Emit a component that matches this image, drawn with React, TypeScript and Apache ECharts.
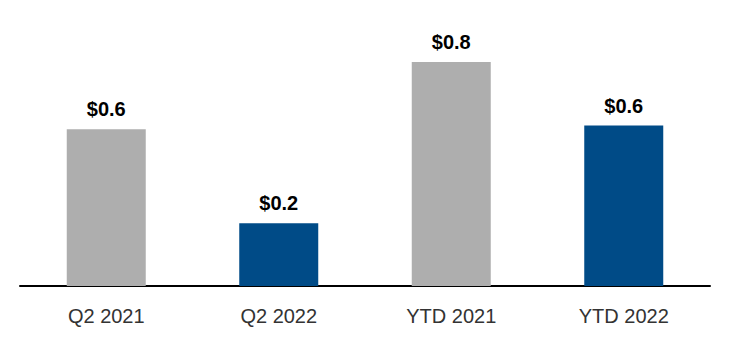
import React, { useEffect, useRef } from "react";
import * as echarts from "echarts";

const categories = ["Q2 2021", "Q2 2022", "YTD 2021", "YTD 2022"];
const values = [0.56, 0.224, 0.8, 0.573];
const labels = ["$0.6", "$0.2", "$0.8", "$0.6"];
const colors = ["#AEAEAE", "#004B87", "#AEAEAE", "#004B87"];

export default function App() {
  const ref = useRef<HTMLDivElement>(null);
  useEffect(() => {
    document.body.style.margin = "0";
    const chart = echarts.init(ref.current!, null, { renderer: "svg" });
    chart.setOption({
      animation: false,
      grid: { left: 20, right: 20, top: 6, bottom: 60 },
      xAxis: {
        type: "category",
        data: categories,
        axisLine: { lineStyle: { color: "#000", width: 2 } },
        axisTick: { show: false },
        axisLabel: {
          color: "#333",
          fontSize: 20,
          fontFamily: "Liberation Sans, Arial, sans-serif",
          margin: 20,
        },
      },
      yAxis: {
        type: "value",
        min: 0,
        max: 1,
        show: false,
        splitLine: { show: false },
      },
      series: [
        {
          type: "bar",
          barWidth: 79,
          data: values.map((v, i) => ({
            value: v,
            itemStyle: { color: colors[i] },
            label: { formatter: labels[i] },
          })),
          label: {
            show: true,
            position: "top",
            distance: 10,
            color: "#000",
            fontSize: 20,
            fontWeight: "bold",
            fontFamily: "Liberation Sans, Arial, sans-serif",
          },
        },
      ],
    });
    return () => chart.dispose();
  }, []);
  return <div ref={ref} style={{ width: 730, height: 346 }} />;
}
